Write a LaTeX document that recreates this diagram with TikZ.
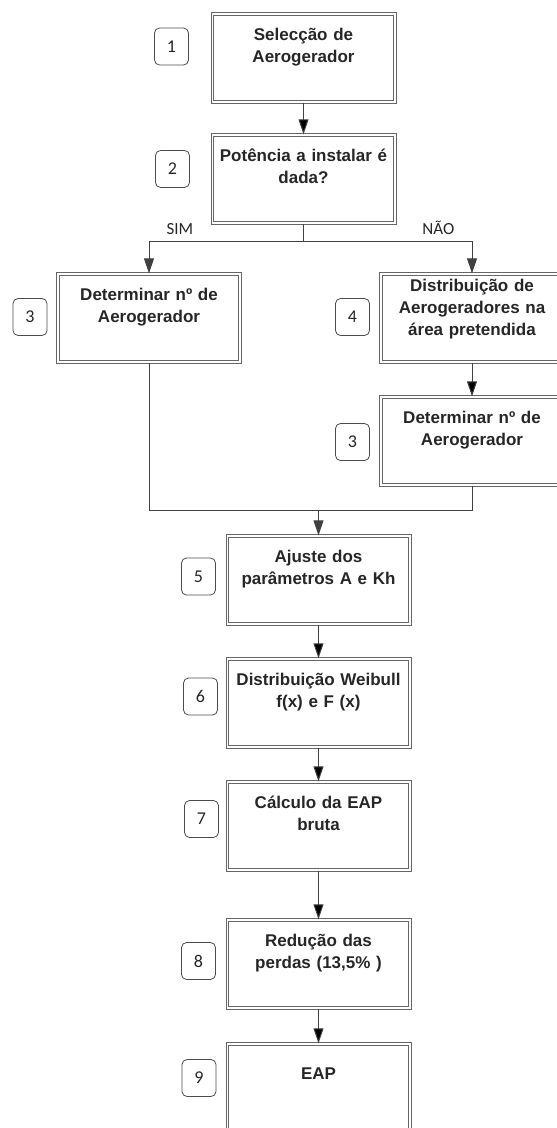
\documentclass[tikz,border=0pt]{standalone}
\usepackage{fontspec}
\setmainfont{Liberation Sans}
\newfontfamily\numfont{Carlito}
\usetikzlibrary{arrows.meta}
\usetikzlibrary{positioning}
\tikzset{
  stage/.style={draw=black!60, double=white, double distance=1.6pt,
    line width=1pt, minimum width=182.4pt, minimum height=88.4pt,
    text width=176pt, align=center, inner sep=3pt,
    text height=23.8pt, text depth=58.6pt,
    font=\fontsize{17}{22}\selectfont\bfseries, text=black!85},
  tag/.style={draw=black!70, line width=0.8pt, rounded corners=5pt,
    minimum width=34pt, minimum height=37pt, inner sep=0pt,
    font=\numfont\fontsize{18}{18}\selectfont, text=black!85},
  answer/.style={font=\numfont\fontsize{17}{17}\selectfont, text=black!85},
  link/.style={draw=black!75, line width=1pt}
}

\begin{document}
\begin{tikzpicture}[x=1pt, y=-1pt,
      >={Triangle[length=15pt, width=10pt]},
      on grid]

    \useasboundingbox (0,0) rectangle (557,1128);
    \clip (0,0) rectangle (557,1128);

    % steps of the flow
    \node[stage] (Selection) at (303.5,58) {Selecção de\\Aerogerador};
    \node[stage]
      (PowerGiven) [below=121pt of Selection] {Potência a instalar é\\dada?};
    \node[stage]
      (CountLeft) [below left=139pt and 154.5pt of PowerGiven] {Determinar nº de\\Aerogerador};
    \node[stage, text height=14.8pt, text depth=67.6pt]
      (Layout) [below right=139pt and 168.5pt of PowerGiven] {Distribuição de\\Aerogeradores na\\área pretendida};
    \node[stage]
      (CountRight) [below=123pt of Layout] {Determinar nº de\\Aerogerador};
    \node[stage]
      (Fit) [below right=262pt and 169.5pt of CountLeft] {Ajuste dos\\parâmetros A e Kh};
    \node[stage]
      (Weibull) [below=123pt of Fit] {Distribuição Weibull\\f(x) e F (x)};
    \node[stage]
      (GrossEAP) [below=123pt of Weibull] {Cálculo da EAP\\bruta};
    \node[stage]
      (Losses) [below=138pt of GrossEAP] {Redução das\\perdas (13,5\% )};
    \node[stage, text height=32.8pt, text depth=49.6pt]
      (EAP) [below=124pt of Losses] {EAP};

    % step numbers
    \node[tag] (Tag1) [left=132pt of Selection, yshift=11.5pt] {1};
    \node[tag] (Tag2) [left=131pt of PowerGiven, yshift=10pt] {2};
    \node[tag] (Tag3a) [left=119pt of CountLeft, yshift=1pt] {3};
    \node[tag] (Tag4) [left=119.5pt of Layout, yshift=1pt] {4};
    \node[tag] (Tag3b) [left=119.5pt of CountRight, yshift=-1pt] {3};
    \node[tag] (Tag5) [left=120pt of Fit, yshift=3.5pt] {5};
    \node[tag] (Tag6) [left=118pt of Weibull, yshift=6.5pt] {6};
    \node[tag] (Tag7) [left=117pt of GrossEAP, yshift=7pt] {7};
    \node[tag] (Tag8) [left=120pt of Losses, yshift=3pt] {8};
    \node[tag] (Tag9) [left=119.5pt of EAP, yshift=10pt] {9};

    \coordinate[below=62pt of PowerGiven] (Split);
    \coordinate[below right=192pt and 169.5pt of CountLeft] (Merge);

    % branch after the question, and the join
    \draw[link] (PowerGiven) -- (Split);
    \draw[link, ->] (Split) -| node[answer, pos=0.4, above=3pt] (Yes) {SIM} (CountLeft);
    \draw[link, ->] (Split) -| node[answer, pos=0.4, above=3pt] (No) {NÃO} (Layout);
    \draw[link] (CountLeft) |- (Merge);
    \draw[link] (CountRight) |- (Merge);
    \draw[link, ->] (Merge) -- (Fit);

    \path[link, ->]
      (Selection) edge (PowerGiven)
      (Layout) edge (CountRight)
      (Fit) edge (Weibull)
      (Weibull) edge (GrossEAP)
      (GrossEAP) edge (Losses)
      (Losses) edge (EAP);

  \end{tikzpicture}
\end{document}
